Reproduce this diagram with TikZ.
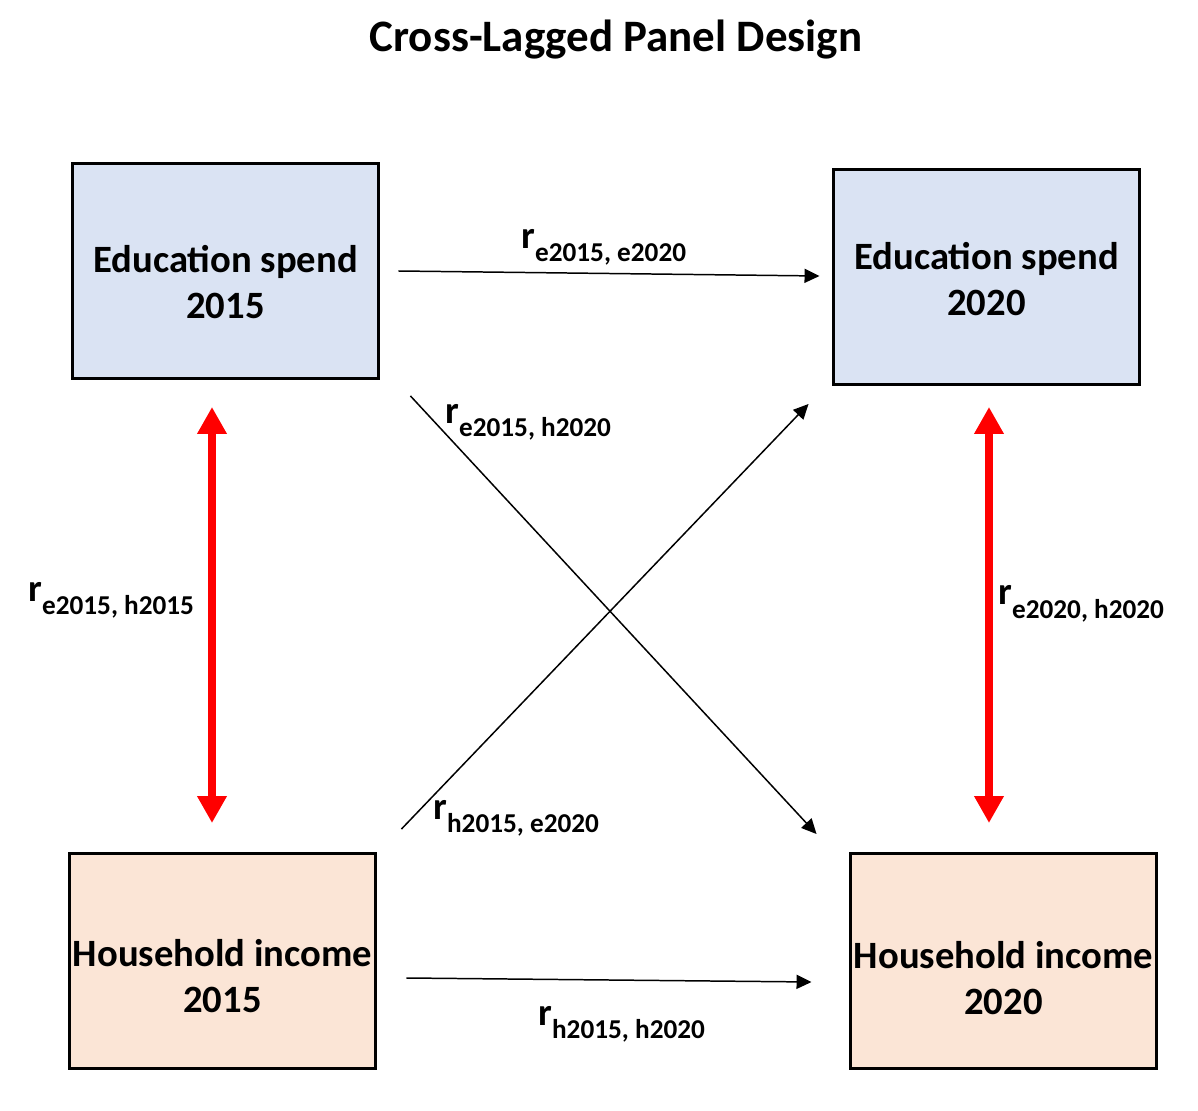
\documentclass[tikz,border=0pt]{standalone}
\usepackage{fontspec}
\setmainfont{Carlito}
\usetikzlibrary{arrows.meta,calc}

\definecolor{edufill}{HTML}{DAE3F3}
\definecolor{incfill}{HTML}{FBE5D6}
\definecolor{corrred}{HTML}{FF0000}

\newcommand{\corr}[1]{{\fontsize{22}{26}\selectfont r}\raisebox{-7.4pt}{\fontsize{15.5}{18}\selectfont #1}}

\tikzset{
  panelbox/.style={draw,line width=1.7pt,minimum width=6.14cm,minimum height=4.3cm,inner sep=0pt},
  boxtext/.style={align=center,font=\bfseries\fontsize{22}{26.6}\selectfont},
  lag/.style={line width=0.85pt,-{Triangle[width=0.28cm,length=0.3cm]}},
  sync/.style={corrred,line width=4.5pt,{Triangle[width=0.56cm,length=0.54cm]}-{Triangle[width=0.56cm,length=0.54cm]}},
  corrlab/.style={anchor=base west,inner sep=0pt,font=\bfseries}
}

\begin{document}
\begin{tikzpicture}[x=0.02cm,y=-0.02cm,line join=miter]
  \useasboundingbox (0,0) rectangle (1198,1111);

  \node[font=\bfseries\fontsize{25.6}{30}\selectfont] (title) at (616,40) {Cross-Lagged Panel Design};

  % the four panel boxes
  \node[panelbox,fill=edufill] (e15) at (225.5,271) {};
  \node[panelbox,fill=edufill] (e20) at (986.5,277) {};
  \node[panelbox,fill=incfill] (h15) at (222.5,961) {};
  \node[panelbox,fill=incfill] (h20) at (1003.5,961) {};
  \node[boxtext] (e15txt) at ($(e15)+(0,11)$) {Education spend\\2015};
  \node[boxtext] (e20txt) at ($(e20)+(0,2)$) {Education spend\\2020};
  \node[boxtext] (h15txt) at ($(h15)+(0,15)$) {Household income\\2015};
  \node[boxtext] (h20txt) at ($(h20)+(0,17)$) {Household income\\2020};

  % autoregressive and cross-lagged paths
  \draw[lag] ($(e15.east)+(18,0)$) -- ($(e20.west)+(-12,-1)$);
  \draw[lag] ($(h15.east)+(29,17)$) -- ($(h20.west)+(-37,21)$);
  \draw[lag] ($(e15.south east)+(30,16)$) -- ($(h20.north west)+(-32,-18)$);
  \draw[lag] ($(h15.north east)+(24,-23)$) -- ($(e20.south west)+(-23,18)$);

  % synchronous correlations
  \draw[sync] ($(e15.south)+(-13.5,27)$) -- ($(h15.north)+(-10.5,-29)$);
  \draw[sync] ($(e20.south)+(2.5,21)$) -- ($(h20.north)+(-14.5,-29)$);

  \node[corrlab] (ree) at (521,249) {\corr{e2015, e2020}};
  \node[corrlab] (reh) at (445,424) {\corr{e2015, h2020}};
  \node[corrlab] (rehA) at (28,602) {\corr{e2015, h2015}};
  \node[corrlab] (rehB) at (998,605) {\corr{e2020, h2020}};
  \node[corrlab] (rhe) at (433,819) {\corr{h2015, e2020}};
  \node[corrlab] (rhh) at (538,1025) {\corr{h2015, h2020}};
\end{tikzpicture}
\end{document}
